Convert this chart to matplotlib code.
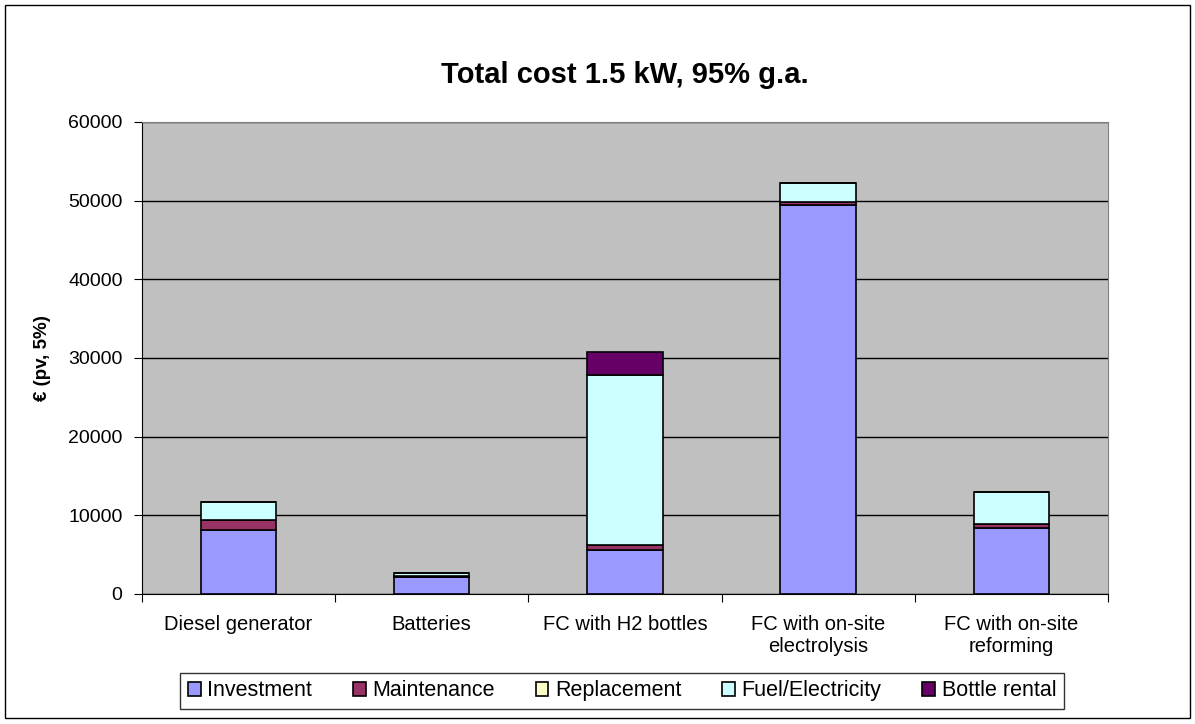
import matplotlib.pyplot as plt
from matplotlib.patches import Rectangle
import numpy as np

plt.rcParams['font.family'] = ['Liberation Sans', 'DejaVu Sans']

categories = ["Diesel generator", "Batteries", "FC with H2 bottles",
              "FC with on-site\nelectrolysis", "FC with on-site\nreforming"]
investment = [8100, 2150, 5650, 49450, 8400]
maintenance = [1350, 0, 550, 420, 550]
replacement = [0, 100, 0, 0, 0]
fuel = [2200, 400, 21600, 2400, 3950]
bottle = [0, 0, 2950, 0, 0]

series = [("Investment", investment, "#9999FF"),
          ("Maintenance", maintenance, "#993366"),
          ("Replacement", replacement, "#FFFFCC"),
          ("Fuel/Electricity", fuel, "#CCFFFF"),
          ("Bottle rental", bottle, "#660066")]

fig = plt.figure(figsize=(11.95, 7.24), dpi=100)
fig.patches.append(Rectangle((0.004, 0.008), 0.992, 0.985, transform=fig.transFigure,
                             fill=False, edgecolor='black', lw=1))
ax = fig.add_axes([0.1188, 0.1796, 0.8083, 0.6519])
ax.set_facecolor('#C0C0C0')

x = np.arange(len(categories))
bottom = np.zeros(len(categories))
for name, vals, col in series:
    vals = np.array(vals)
    ax.bar(x, vals, 0.39, bottom=bottom, color=col, edgecolor='black', lw=1.2,
           label=name, zorder=3)
    bottom += vals

ax.set_xlim(-0.5, len(categories) - 0.5)
ax.set_ylim(0, 60000)
ax.set_yticks(range(0, 60001, 10000))
ax.yaxis.grid(True, color='black', lw=1, zorder=0)
ax.set_axisbelow(True)
ax.set_xticks(np.arange(-0.5, len(categories), 1.0))
ax.set_xticklabels([])
ax.set_xticks(x, minor=True)
ax.set_xticklabels(categories, minor=True, fontsize=14.5)
ax.tick_params(axis='x', which='minor', length=0, pad=15)
ax.tick_params(axis='x', which='major', length=6, direction='out')
ax.tick_params(axis='y', labelsize=14, length=6, pad=8, direction='out')
for s in ['top', 'right']:
    ax.spines[s].set_color('#808080')
for s in ['left', 'bottom']:
    ax.spines[s].set_color('black')

ax.set_ylabel("€ (pv, 5%)", fontsize=13.5, fontweight='bold', labelpad=12)
ax.set_title("Total cost 1.5 kW, 95% g.a.", fontsize=21, fontweight='bold', pad=28)

leg = fig.legend(loc='center', bbox_to_anchor=(0.5205, 0.0456), ncol=5,
                 prop={'size': 15.5},
                 handlelength=0.6, handleheight=0.6, handletextpad=0.3, columnspacing=1.9,
                 frameon=True, fancybox=False, edgecolor='black', borderpad=0.35)
leg.get_frame().set_linewidth(1)

plt.savefig("out.png", dpi=100)
plt.close()
